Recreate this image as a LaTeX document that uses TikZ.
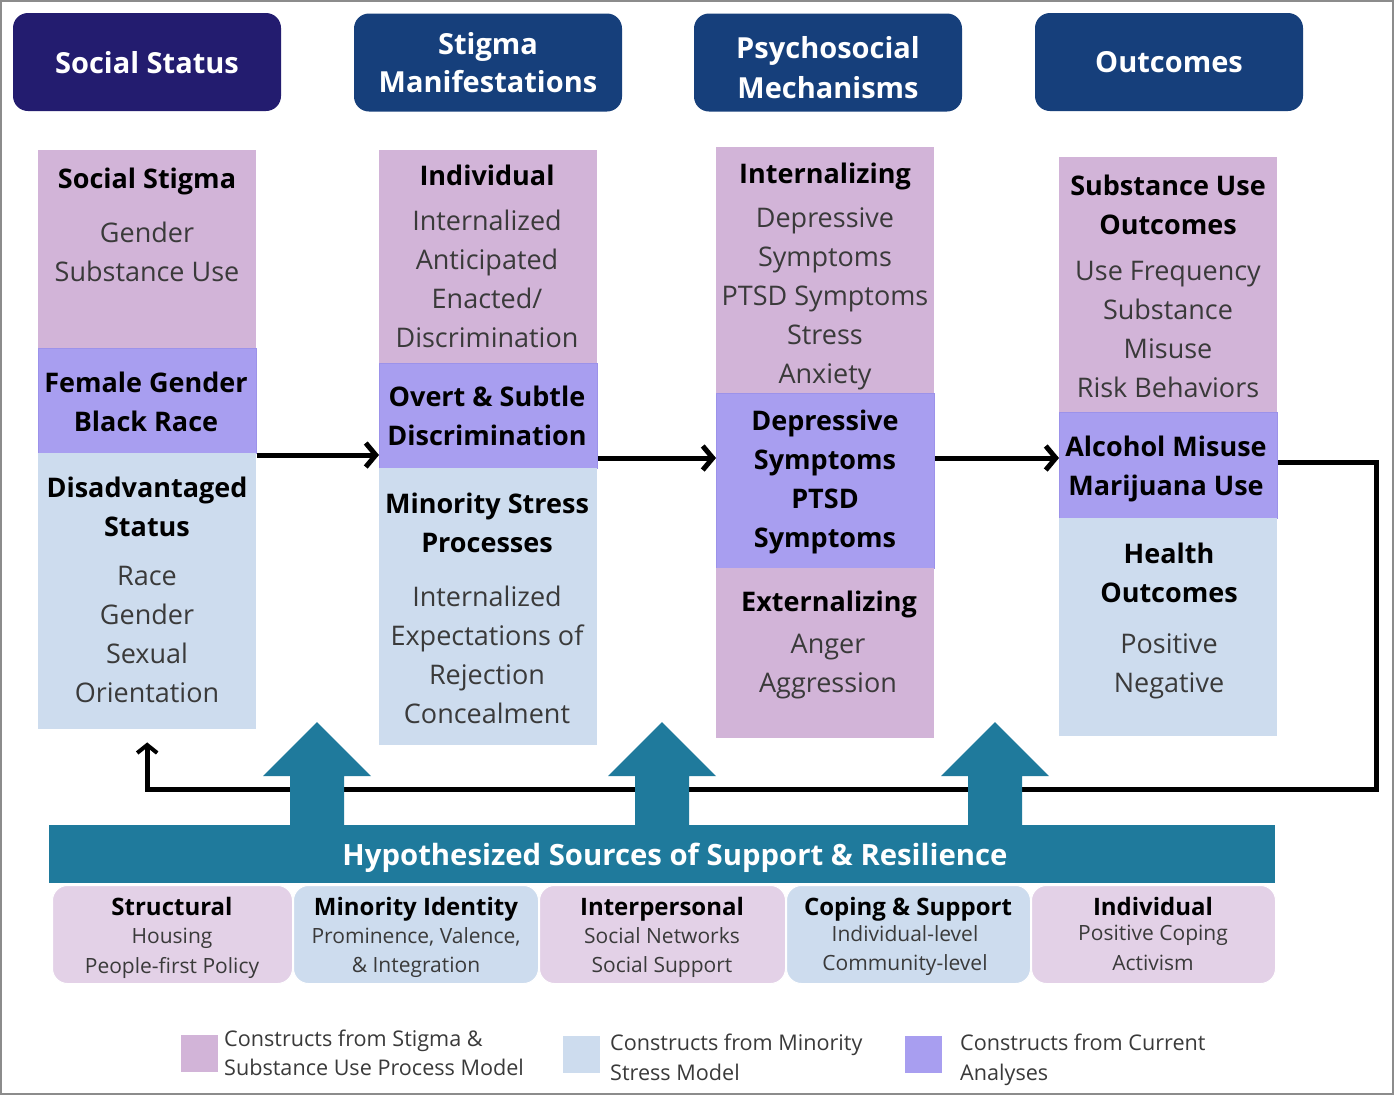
\documentclass[tikz,border=0pt]{standalone}
\usepackage{fontspec}
\setmainfont{Open Sans}
\usetikzlibrary{arrows.meta}
\definecolor{hdrA}{HTML}{231C6F}
\definecolor{hdrB}{HTML}{163F7B}
\definecolor{pinkc}{HTML}{D2B4D8}
\definecolor{purpc}{HTML}{A89EF0}
\definecolor{purpd}{HTML}{9C92EA}
\definecolor{bluec}{HTML}{CDDCEE}
\definecolor{pinkl}{HTML}{E3D1E7}
\definecolor{tealc}{HTML}{1F7A9C}
\definecolor{bodyc}{HTML}{3A3A3A}
\definecolor{framec}{HTML}{8C8C8C}
\tikzset{
  hdr/.style={rounded corners=15pt, minimum width=268pt, minimum height=98pt, inner sep=0pt},
  hdrt/.style={inner sep=0pt, text depth=0pt, text=white, align=center, font=\fontsize{29}{38}\selectfont\bfseries},
  cell/.style={anchor=north west, minimum width=218pt, inner sep=0pt},
  pcell/.style={cell, fill=pinkc},
  ucell/.style={cell, fill=purpc, draw=purpd, line width=1pt},
  bcell/.style={cell, fill=bluec},
  hd/.style={align=center, inner sep=0pt, text depth=0pt, text=black, font=\fontsize{27}{39}\selectfont\bfseries},
  bd/.style={align=center, inner sep=0pt, text depth=0pt, text=bodyc, font=\fontsize{27}{39}\selectfont},
  flow/.style={line width=5pt, -{Straight Barb[length=10pt,width=24pt,line width=5pt]}},
  fbline/.style={line width=5pt, -{Straight Barb[length=8pt,width=20pt,line width=4pt]}},
  sbox/.style={anchor=north west, rounded corners=15pt, minimum height=98pt, inner sep=0pt, draw=white, line width=1pt},
  shd/.style={align=center, inner sep=0pt, text depth=0pt, text=black, font=\fontsize{24}{30}\selectfont\bfseries},
  sbd/.style={align=center, inner sep=0pt, text depth=0pt, text=bodyc, font=\fontsize{21}{29.5}\selectfont},
  legsq/.style={minimum size=37pt, inner sep=0pt},
  legtx/.style={anchor=west, align=left, inner sep=0pt, text depth=0pt, text=bodyc, font=\fontsize{21.6}{29.5}\selectfont},
  frame/.style={draw=framec, line width=1.5pt}
}
\begin{document}
\begin{tikzpicture}[x=1pt,y=-1pt]
\useasboundingbox (0,0) rectangle (1394,1096);
\fill[white] (0,0) rectangle (1394,1096);
\draw[frame] (1,1) rectangle (1393,1094);

% headers
\node[hdr, fill=hdrA] (h1) at (147,62) {};
\node[hdr, fill=hdrB] (h2) at (488,62.5) {};
\node[hdr, fill=hdrB] (h3) at (828,62.5) {};
\node[hdr, fill=hdrB] (h4) at (1169,62) {};
\node[hdrt] (h1t) at (147,62) {Social Status};
\node[hdrt] (h2t) at (488,62) {Stigma\\Manifestations};
\node[hdrt, font=\fontsize{29}{40}\selectfont\bfseries] (h3t) at (828,67) {Psychosocial\\Mechanisms};
\node[hdrt] (h4t) at (1169,62) {Outcomes};

% column 1
\node[pcell, minimum height=198pt] (c1a) at (38,150) {};
\node[ucell, minimum height=105pt] (c1b) at (38,348) {};
\node[bcell, minimum height=276pt] (c1c) at (38,453) {};
% column 2
\node[pcell, minimum height=213pt] (c2a) at (379,150) {};
\node[ucell, minimum height=105pt] (c2b) at (379,363) {};
\node[bcell, minimum height=277pt] (c2c) at (379,468) {};
% column 3
\node[pcell, minimum height=246pt] (c3a) at (716,147) {};
\node[ucell, minimum height=175pt] (c3b) at (716,393) {};
\node[pcell, minimum height=170pt] (c3c) at (716,568) {};
% column 4
\node[pcell, minimum height=255pt] (c4a) at (1059,157) {};
\node[ucell, minimum height=106pt] (c4b) at (1059,412) {};
\node[bcell, minimum height=218pt] (c4c) at (1059,518) {};

% column texts
\node[hd] (t1a) at (147,178) {Social Stigma};
\node[bd] (t1ab) at (147,251.5) {Gender\\Substance Use};
\node[hd] (t1b) at (146,401.5) {Female Gender\\Black Race};
\node[hd] (t1c) at (147,506.5) {Disadvantaged\\Status};
\node[bd] (t1cb) at (147,634) {Race\\Gender\\Sexual\\Orientation};

\node[hd] (t2a) at (487,175) {Individual};
\node[bd] (t2ab) at (487,278.5) {Internalized\\Anticipated\\Enacted/\\Discrimination};
\node[hd] (t2b) at (487,415.5) {Overt \& Subtle\\Discrimination};
\node[hd] (t2c) at (487,522.5) {Minority Stress\\Processes};
\node[bd] (t2cb) at (487,654.5) {Internalized\\Expectations of\\Rejection\\Concealment};

\node[hd] (t3a) at (825,173) {Internalizing};
\node[bd] (t3ab) at (825,295.5) {Depressive\\Symptoms\\PTSD Symptoms\\Stress\\Anxiety};
\node[hd] (t3b) at (825,479) {Depressive\\Symptoms\\PTSD\\Symptoms};
\node[hd] (t3c) at (829,601) {Externalizing};
\node[bd] (t3cb) at (828,663.5) {Anger\\Aggression};

\node[hd] (t4a) at (1168,204.5) {Substance Use\\Outcomes};
\node[bd] (t4ab) at (1168,329) {Use Frequency\\Substance\\Misuse\\Risk Behaviors};
\node[hd] (t4b) at (1166,465.5) {Alcohol Misuse\\Marijuana Use};
\node[hd] (t4c) at (1169,572.5) {Health\\Outcomes};
\node[bd] (t4cb) at (1169,663.5) {Positive\\Negative};

% flow arrows
\coordinate (ya) at (0,455);
\coordinate (yb) at (0,458);
\coordinate (yc) at (0,462);
\draw[flow] (c1b.east |- ya) -- (c2b.west |- ya);
\draw[flow] (c2b.east |- yb) -- (c3b.west |- yb);
\draw[flow] (c3b.east |- yb) -- (c4b.west |- yb);

% feedback loop
\coordinate (fbc) at (1376,789);
\draw[fbline, line join=miter] (c4b.east |- yc) -| (fbc) -| ([yshift=-13pt]c1c.south);

% banner
\node[anchor=north west, fill=tealc, minimum width=1226pt, minimum height=58pt, inner sep=0pt] (ban) at (49,825) {};
\node[text=white, text depth=0pt, font=\fontsize{29.3}{34}\selectfont\bfseries, inner sep=0pt] (bant) at (675,854) {Hypothesized Sources of Support \& Resilience};

% big teal arrows
\foreach \cx in {317, 662, 995}{
  \fill[tealc] (\cx-27,827) -- (\cx-27,776) -- (\cx-54,776) -- (\cx,722) -- (\cx+54,776) -- (\cx+27,776) -- (\cx+27,827) -- cycle;
}

% bottom boxes
\node[sbox, fill=pinkl, minimum width=240pt] (b1) at (52,885) {};
\node[sbox, fill=bluec, minimum width=245pt] (b2) at (293,885) {};
\node[sbox, fill=pinkl, minimum width=246pt] (b3) at (539,885) {};
\node[sbox, fill=bluec, minimum width=244pt] (b4) at (786,885) {};
\node[sbox, fill=pinkl, minimum width=244pt] (b5) at (1031,885) {};

\node[shd] (s1h) at (172,906) {Structural};
\node[sbd] (s1b) at (172,951) {Housing\\People-first Policy};
\node[shd] (s2h) at (416,906) {Minority Identity};
\node[sbd] (s2b) at (416,950) {Prominence, Valence,\\\& Integration};
\node[shd] (s3h) at (662,906) {Interpersonal};
\node[sbd] (s3b) at (662,950) {Social Networks\\Social Support};
\node[shd] (s4h) at (908,906) {Coping \& Support};
\node[sbd] (s4b) at (905,948) {Individual-level\\Community-level};
\node[shd] (s5h) at (1153,906) {Individual};
\node[sbd] (s5b) at (1153,948) {Positive Coping\\Activism};

% legend
\node[legsq, fill=pinkc] (l1) at (199,1053.5) {};
\node[legtx] (l1t) at (224,1052.5) {Constructs from Stigma \&\\Substance Use Process Model};
\node[legsq, fill=bluec] (l2) at (581.5,1054.5) {};
\node[legtx] (l2t) at (610,1057) {Constructs from Minority\\Stress Model};
\node[legsq, fill=purpc] (l3) at (923,1054.5) {};
\node[legtx] (l3t) at (960,1057) {Constructs from Current\\Analyses};
\end{tikzpicture}
\end{document}
